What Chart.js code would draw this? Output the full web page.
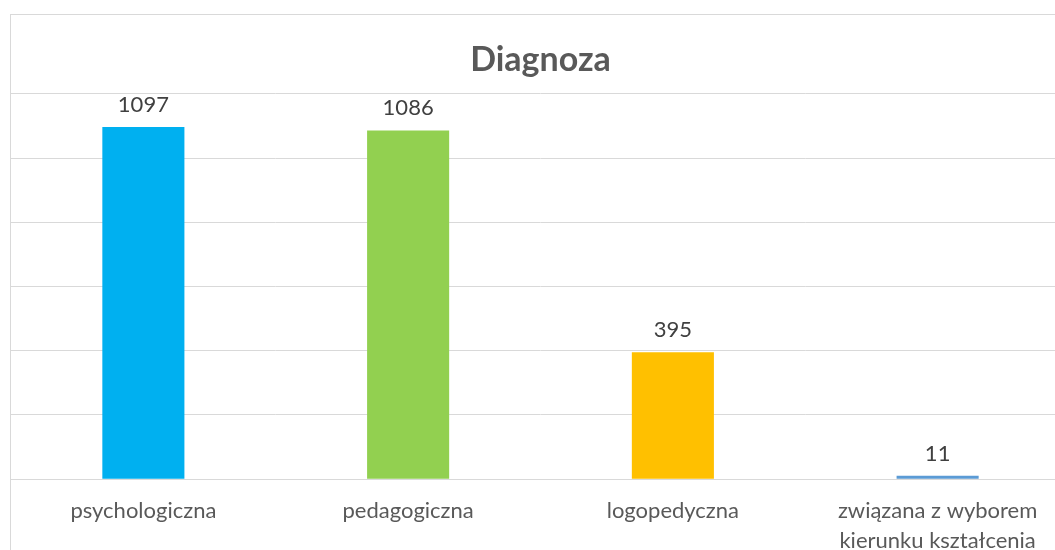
<!DOCTYPE html>
<html>
<head>
<meta charset="utf-8">
<script src="https://cdn.jsdelivr.net/npm/chart.js@4"></script>
<style>
  html, body { margin: 0; padding: 0; background: #fff; overflow: hidden; }
  #frame {
    position: absolute;
    left: 10px;
    top: 14px;
    width: 1060px;
    height: 560px;
    border-left: 1px solid #d9d9d9;
    border-top: 1px solid #d9d9d9;
  }
</style>
</head>
<body>
<div id="frame"><canvas id="chart" width="1059" height="560"></canvas></div>
<script>
let categories = ["psychologiczna", "pedagogiczna", "logopedyczna", ["związana z wyborem", "kierunku kształcenia"]];
let values = [1097, 1086, 395, 11];
let barColors = ["#00B0F0", "#92D050", "#FFC000", "#5B9BD5"];
let chartTitle = "Diagnoza";

const fontName = "Lato, 'Open Sans', sans-serif";

// value labels above each bar
const valueLabels = {
    id: "valueLabels",
    afterDatasetsDraw(chart) {
        let ctx = chart.ctx;
        let meta = chart.getDatasetMeta(0);
        ctx.save();
        ctx.font = "22px " + fontName;
        ctx.fillStyle = "#404040";
        ctx.textAlign = "center";
        ctx.textBaseline = "alphabetic";
        meta.data.forEach((bar, i) => {
            ctx.fillText(values[i], bar.x, bar.y - 15);
        });
        ctx.restore();
    }
};

new Chart(document.getElementById("chart"), {
    type: "bar",
    data: {
        labels: categories,
        datasets: [{
            data: values,
            backgroundColor: barColors,
            barPercentage: 0.31,
            categoryPercentage: 1
        }]
    },
    options: {
        responsive: false,
        animation: false,
        layout: { padding: { top: 0, left: 0, right: 0, bottom: 2 } },
        plugins: {
            legend: { display: false },
            tooltip: { enabled: false },
            title: {
                display: true,
                text: chartTitle,
                color: "#595959",
                font: { family: fontName, size: 34, weight: "bold" },
                padding: { top: 25, bottom: 13 }
            }
        },
        scales: {
            x: {
                grid: { display: false, drawTicks: false },
                border: { display: true, color: "#d9d9d9" },
                ticks: {
                    color: "#595959",
                    font: { family: fontName, size: 22, lineHeight: 1.36 },
                    padding: 17,
                    maxRotation: 0
                }
            },
            y: {
                min: 0,
                max: 1200,
                ticks: { display: false, stepSize: 200 },
                grid: { color: "#d9d9d9", drawTicks: false },
                border: { display: false }
            }
        }
    },
    plugins: [valueLabels]
});
</script>
</body>
</html>
